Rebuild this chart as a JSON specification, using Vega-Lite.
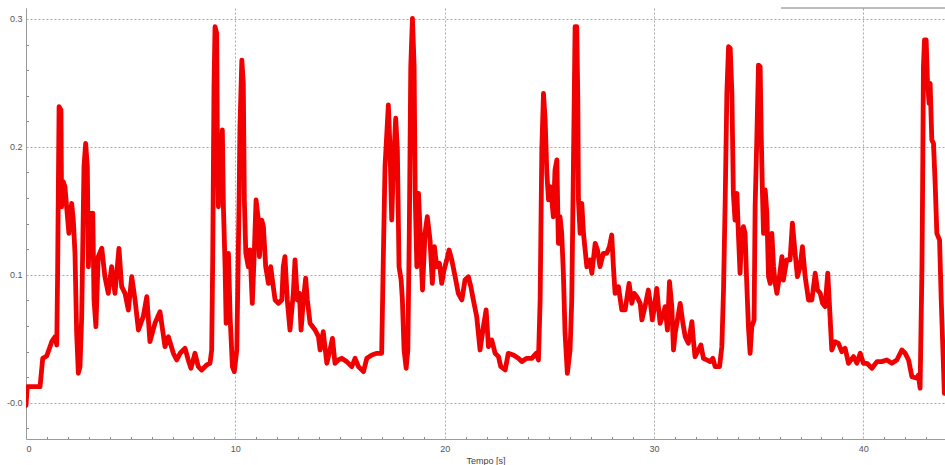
{
  "$schema": "https://vega.github.io/schema/vega-lite/v6.json",
  "autosize": {"type": "none"},
  "padding": {"left": 26, "top": 8, "right": 0, "bottom": 26},
  "width": 919,
  "height": 431,
  "background": "white",
  "config": {
    "view": {"stroke": null},
    "axis": {"labelFont": "Liberation Sans", "titleFont": "Liberation Sans", "labelFontSize": 9, "labelColor": "#555555", "titleFontSize": 9, "titleFontWeight": "normal", "titleColor": "#444444", "domainColor": "#9a9a9a", "tickColor": "#9a9a9a"}
  },
  "datasets": {
    "signal": [
      {"t":0,"v":-0.002},{"t":0.06,"v":0.0125},{"t":0.67,"v":0.0125},{"t":0.8,"v":0.0347},{"t":0.99,"v":0.0365},{"t":1.23,"v":0.0477},{"t":1.39,"v":0.0516},{"t":1.47,"v":0.0451},{"t":1.51,"v":0.1012},{"t":1.58,"v":0.2314},{"t":1.67,"v":0.2289},{"t":1.7,"v":0.1532},{"t":1.78,"v":0.1728},{"t":1.86,"v":0.1689},{"t":1.94,"v":0.1532},{"t":2.05,"v":0.1324},{"t":2.18,"v":0.1559},{"t":2.26,"v":0.1428},{"t":2.34,"v":0.1168},{"t":2.42,"v":0.0543},{"t":2.5,"v":0.023},{"t":2.58,"v":0.0282},{"t":2.66,"v":0.0673},{"t":2.77,"v":0.1845},{"t":2.85,"v":0.2028},{"t":2.93,"v":0.1845},{"t":2.98,"v":0.1063},{"t":3.06,"v":0.1481},{"t":3.14,"v":0.1194},{"t":3.19,"v":0.1481},{"t":3.25,"v":0.0803},{"t":3.34,"v":0.0594},{"t":3.45,"v":0.1142},{"t":3.62,"v":0.1207},{"t":3.77,"v":0.0985},{"t":3.93,"v":0.0855},{"t":4.09,"v":0.1063},{"t":4.25,"v":0.0855},{"t":4.44,"v":0.1207},{"t":4.57,"v":0.0907},{"t":4.73,"v":0.0855},{"t":4.89,"v":0.0725},{"t":5.05,"v":0.0985},{"t":5.21,"v":0.0803},{"t":5.37,"v":0.0568},{"t":5.6,"v":0.0673},{"t":5.77,"v":0.0829},{"t":5.92,"v":0.0477},{"t":6.16,"v":0.0621},{"t":6.4,"v":0.0712},{"t":6.64,"v":0.0438},{"t":6.8,"v":0.0516},{"t":7.04,"v":0.0386},{"t":7.2,"v":0.0334},{"t":7.36,"v":0.0386},{"t":7.6,"v":0.0425},{"t":7.75,"v":0.0334},{"t":7.88,"v":0.0269},{"t":8.07,"v":0.0386},{"t":8.23,"v":0.0282},{"t":8.39,"v":0.0256},{"t":8.63,"v":0.0295},{"t":8.79,"v":0.0308},
      {"t":8.87,"v":0.0412},{"t":8.92,"v":0.1142},{"t":8.95,"v":0.1794},{"t":8.98,"v":0.2471},{"t":9.03,"v":0.294},{"t":9.11,"v":0.2888},{"t":9.14,"v":0.2106},{"t":9.19,"v":0.1532},{"t":9.27,"v":0.1845},{"t":9.38,"v":0.2132},{"t":9.43,"v":0.1532},{"t":9.51,"v":0.1063},{"t":9.56,"v":0.0621},{"t":9.67,"v":0.1168},{"t":9.75,"v":0.0673},{"t":9.86,"v":0.0282},{"t":9.95,"v":0.0243},{"t":10.07,"v":0.0412},{"t":10.18,"v":0.1585},{"t":10.22,"v":0.2158},{"t":10.31,"v":0.2679},{"t":10.38,"v":0.2497},{"t":10.43,"v":0.1585},{"t":10.5,"v":0.1168},{"t":10.62,"v":0.1063},{"t":10.7,"v":0.1194},{"t":10.81,"v":0.0777},{"t":10.91,"v":0.1194},{"t":10.99,"v":0.1585},{"t":11.1,"v":0.1428},{"t":11.15,"v":0.1142},{"t":11.26,"v":0.1428},{"t":11.34,"v":0.1376},{"t":11.45,"v":0.1063},{"t":11.58,"v":0.0933},{"t":11.69,"v":0.1063},{"t":11.79,"v":0.0933},{"t":11.9,"v":0.0803},{"t":12.06,"v":0.0777},{"t":12.22,"v":0.0803},{"t":12.29,"v":0.1063},{"t":12.37,"v":0.1142},{"t":12.48,"v":0.0803},{"t":12.61,"v":0.0568},{"t":12.77,"v":0.0855},{"t":12.85,"v":0.1116},{"t":12.96,"v":0.0803},{"t":13.06,"v":0.0855},{"t":13.14,"v":0.0568},{"t":13.25,"v":0.0803},{"t":13.36,"v":0.0973},{"t":13.44,"v":0.0803},{"t":13.57,"v":0.0621},{"t":13.81,"v":0.0568},{"t":13.97,"v":0.0516},{"t":14.05,"v":0.0412},{"t":14.2,"v":0.0555},{"t":14.37,"v":0.0308},{"t":14.52,"v":0.0412},{"t":14.64,"v":0.0503},{"t":14.76,"v":0.0308},{"t":14.92,"v":0.0334},{"t":15.08,"v":0.0347},{"t":15.32,"v":0.0321},{"t":15.56,"v":0.0282},{"t":15.72,"v":0.0347},{"t":15.88,"v":0.0282},{"t":16.12,"v":0.0243},{"t":16.28,"v":0.0347},{"t":16.52,"v":0.0373},{"t":16.76,"v":0.0386},{"t":16.99,"v":0.0386},{"t":17.07,"v":0.1142},{"t":17.15,"v":0.1845},
      {"t":17.31,"v":0.2328},{"t":17.39,"v":0.1976},{"t":17.47,"v":0.1428},{"t":17.55,"v":0.1845},{"t":17.66,"v":0.2224},{"t":17.74,"v":0.1976},{"t":17.82,"v":0.1063},{"t":17.92,"v":0.0959},{"t":17.98,"v":0.0803},{"t":18.06,"v":0.0412},{"t":18.16,"v":0.0269},{"t":18.24,"v":0.0412},{"t":18.31,"v":0.1324},{"t":18.38,"v":0.2627},{"t":18.46,"v":0.3005},{"t":18.54,"v":0.2627},{"t":18.59,"v":0.1637},{"t":18.67,"v":0.1063},{"t":18.75,"v":0.1637},{"t":18.83,"v":0.1324},{"t":18.94,"v":0.0881},{"t":19.06,"v":0.1324},{"t":19.17,"v":0.1454},{"t":19.3,"v":0.1272},{"t":19.41,"v":0.0933},{"t":19.51,"v":0.122},{"t":19.62,"v":0.1063},{"t":19.75,"v":0.109},{"t":19.86,"v":0.0933},{"t":19.97,"v":0.1037},{"t":20.1,"v":0.1116},{"t":20.21,"v":0.1194},{"t":20.34,"v":0.1116},{"t":20.5,"v":0.0985},{"t":20.65,"v":0.0855},{"t":20.82,"v":0.0803},{"t":20.97,"v":0.0959},{"t":21.13,"v":0.0985},{"t":21.25,"v":0.0907},{"t":21.37,"v":0.0803},{"t":21.53,"v":0.0673},{"t":21.69,"v":0.0412},{"t":21.85,"v":0.0594},{"t":21.98,"v":0.0725},{"t":22.09,"v":0.0438},{"t":22.25,"v":0.049},{"t":22.41,"v":0.0386},{"t":22.57,"v":0.036},{"t":22.68,"v":0.0282},{"t":22.89,"v":0.0256},{"t":23.04,"v":0.0386},{"t":23.28,"v":0.0373},{"t":23.52,"v":0.0347},{"t":23.68,"v":0.0321},{"t":23.92,"v":0.0347},{"t":24.16,"v":0.0347},{"t":24.37,"v":0.0386},{"t":24.48,"v":0.0334},{"t":24.56,"v":0.0803},{"t":24.64,"v":0.1976},{"t":24.72,"v":0.2419},{"t":24.8,"v":0.221},{"t":24.88,"v":0.1794},{"t":24.96,"v":0.1585},{"t":25.04,"v":0.1689},{"t":25.12,"v":0.1585},{"t":25.19,"v":0.1454},{"t":25.27,"v":0.1819},{"t":25.36,"v":0.1898},{"t":25.43,"v":0.1246},{"t":25.51,"v":0.1454},{"t":25.59,"v":0.1324},{"t":25.67,"v":0.1012},{"t":25.75,"v":0.0543},{"t":25.86,"v":0.023},
      {"t":25.99,"v":0.0412},{"t":26.07,"v":0.0803},{"t":26.15,"v":0.1845},{"t":26.23,"v":0.294},{"t":26.31,"v":0.294},{"t":26.36,"v":0.2367},{"t":26.39,"v":0.1585},{"t":26.47,"v":0.1324},{"t":26.55,"v":0.1559},{"t":26.63,"v":0.1324},{"t":26.79,"v":0.1063},{"t":26.95,"v":0.1116},{"t":27.03,"v":0.1012},{"t":27.19,"v":0.1246},{"t":27.3,"v":0.1194},{"t":27.42,"v":0.1063},{"t":27.58,"v":0.1168},{"t":27.74,"v":0.1168},{"t":27.87,"v":0.122},{"t":27.98,"v":0.1311},{"t":28.06,"v":0.1063},{"t":28.14,"v":0.0855},{"t":28.3,"v":0.0907},{"t":28.46,"v":0.0725},{"t":28.62,"v":0.0725},{"t":28.81,"v":0.0933},{"t":28.94,"v":0.0777},{"t":29.05,"v":0.0855},{"t":29.18,"v":0.0829},{"t":29.34,"v":0.0777},{"t":29.42,"v":0.0647},{"t":29.57,"v":0.0751},{"t":29.73,"v":0.0881},{"t":29.85,"v":0.0751},{"t":29.92,"v":0.0647},{"t":30,"v":0.0725},{"t":30.13,"v":0.0894},{"t":30.21,"v":0.0751},{"t":30.29,"v":0.0621},{"t":30.45,"v":0.0699},{"t":30.53,"v":0.0751},{"t":30.64,"v":0.0568},{"t":30.74,"v":0.0946},{"t":30.85,"v":0.0751},{"t":30.93,"v":0.0412},{"t":31.01,"v":0.0543},{"t":31.17,"v":0.0699},{"t":31.25,"v":0.0777},{"t":31.38,"v":0.0621},{"t":31.49,"v":0.0516},{"t":31.64,"v":0.0464},{"t":31.81,"v":0.0633},{"t":31.88,"v":0.049},{"t":31.96,"v":0.036},{"t":32.12,"v":0.0412},{"t":32.24,"v":0.0451},{"t":32.36,"v":0.0347},{"t":32.52,"v":0.0334},{"t":32.68,"v":0.0321},{"t":32.81,"v":0.0347},{"t":32.92,"v":0.0282},{"t":33.13,"v":0.0282},{"t":33.24,"v":0.0438},{"t":33.32,"v":0.0881},{"t":33.4,"v":0.1585},{"t":33.48,"v":0.2419},{"t":33.56,"v":0.2783},{"t":33.64,"v":0.2771},{"t":33.72,"v":0.2419},{"t":33.79,"v":0.1637},{"t":33.87,"v":0.1428},{"t":33.96,"v":0.1637},{"t":34.03,"v":0.1324},{"t":34.11,"v":0.1012},{"t":34.19,"v":0.1324},
      {"t":34.27,"v":0.1376},{"t":34.35,"v":0.1324},{"t":34.43,"v":0.0933},{"t":34.51,"v":0.0594},{"t":34.59,"v":0.0386},{"t":34.67,"v":0.0594},{"t":34.78,"v":0.0647},{"t":34.83,"v":0.1532},{"t":34.91,"v":0.2054},{"t":34.99,"v":0.264},{"t":35.07,"v":0.2627},{"t":35.12,"v":0.2106},{"t":35.18,"v":0.1637},{"t":35.23,"v":0.1324},{"t":35.31,"v":0.1663},{"t":35.39,"v":0.1481},{"t":35.47,"v":0.0985},{"t":35.55,"v":0.0933},{"t":35.63,"v":0.1324},{"t":35.71,"v":0.1063},{"t":35.79,"v":0.0933},{"t":35.87,"v":0.0855},{"t":35.99,"v":0.0985},{"t":36.11,"v":0.1142},{"t":36.18,"v":0.0959},{"t":36.34,"v":0.1116},{"t":36.5,"v":0.1116},{"t":36.61,"v":0.1403},{"t":36.74,"v":0.1168},{"t":36.85,"v":0.0985},{"t":36.98,"v":0.1063},{"t":37.09,"v":0.122},{"t":37.22,"v":0.0985},{"t":37.38,"v":0.0803},{"t":37.54,"v":0.0803},{"t":37.7,"v":0.1012},{"t":37.81,"v":0.0881},{"t":37.94,"v":0.0855},{"t":38.05,"v":0.0777},{"t":38.17,"v":0.0751},{"t":38.3,"v":0.1012},{"t":38.41,"v":0.0673},{"t":38.49,"v":0.0412},{"t":38.65,"v":0.0477},{"t":38.81,"v":0.0464},{"t":38.97,"v":0.0399},{"t":39.13,"v":0.0425},{"t":39.29,"v":0.0308},{"t":39.53,"v":0.036},{"t":39.69,"v":0.0308},{"t":39.85,"v":0.0386},{"t":40,"v":0.0308},{"t":40.17,"v":0.0308},{"t":40.41,"v":0.0269},{"t":40.65,"v":0.0321},{"t":40.88,"v":0.0321},{"t":41.12,"v":0.0334},{"t":41.36,"v":0.0308},{"t":41.6,"v":0.0334},{"t":41.84,"v":0.0412},{"t":42,"v":0.0386},{"t":42.16,"v":0.0334},{"t":42.32,"v":0.0203},{"t":42.56,"v":0.0191},{"t":42.63,"v":0.0217},{"t":42.71,"v":0.0113},{"t":42.8,"v":0.1063},{"t":42.84,"v":0.1898},{"t":42.87,"v":0.2627},{"t":42.92,"v":0.2836},{"t":43,"v":0.2836},{"t":43.06,"v":0.2523},{"t":43.14,"v":0.2341},{"t":43.19,"v":0.2497},{"t":43.27,"v":0.2054},{"t":43.35,"v":0.2028},{"t":43.43,"v":0.1715},{"t":43.51,"v":0.1324},{"t":43.64,"v":0.1272},{"t":43.72,"v":0.0803},{"t":43.8,"v":0.0412},{"t":43.87,"v":0.0073}
    ],
    "frame": [{"t": 36.07, "t2": 43.9, "v": 0.3086}]
  },
  "layer": [
    {
      "data": {"name": "signal"},
      "mark": {"type": "line", "strokeOpacity": 0},
      "encoding": {
        "x": {"field": "t", "type": "quantitative", "scale": {"domain": [0, 43.9], "nice": false, "zero": false},
          "axis": {"orient": "bottom", "values": [1,2,3,4,5,6,7,8,9,11,12,13,14,15,16,17,18,19,21,22,23,24,25,26,27,28,29,31,32,33,34,35,36,37,38,39,41,42,43], "labels": false, "grid": false, "domain": false, "tickSize": -2.5, "tickColor": "#8a8a8a", "title": null}},
        "y": {"field": "v", "type": "quantitative", "scale": {"domain": [-0.0284, 0.3086], "nice": false, "zero": false},
          "axis": {"orient": "left", "values": [-0.02,0.02,0.04,0.06,0.08,0.12,0.14,0.16,0.18,0.22,0.24,0.26,0.28], "labels": false, "grid": false, "domain": false, "tickSize": -2.5, "tickColor": "#8a8a8a", "title": null}}
      }
    },
    {
      "data": {"name": "signal"},
      "mark": {"type": "line", "color": "#f00000", "strokeWidth": 4.8, "strokeJoin": "round", "strokeCap": "round", "clip": true},
      "encoding": {
        "x": {"field": "t", "type": "quantitative",
          "axis": {"orient": "bottom", "values": [0, 10, 20, 30, 40], "format": "d", "grid": true, "gridDash": [2, 2], "gridColor": "#a8a8a8", "gridWidth": 1, "ticks": false, "labelPadding": 5, "title": "Tempo [s]", "titlePadding": 3}},
        "y": {"field": "v", "type": "quantitative",
          "axis": {"orient": "left", "values": [0, 0.1, 0.2, 0.3], "labelExpr": "datum.value == 0 ? '-0.0' : format(datum.value, '.1f')", "grid": true, "gridDash": [2, 2], "gridColor": "#a8a8a8", "gridWidth": 1, "ticks": false, "labelPadding": 4, "title": null}}
      }
    },
    {
      "data": {"name": "frame"},
      "mark": {"type": "rule", "color": "#7a7a7a", "strokeWidth": 1},
      "encoding": {
        "x": {"field": "t", "type": "quantitative", "axis": null},
        "x2": {"field": "t2"},
        "y": {"field": "v", "type": "quantitative", "axis": null}
      }
    }
  ],
  "resolve": {"axis": {"x": "independent", "y": "independent"}}
}
